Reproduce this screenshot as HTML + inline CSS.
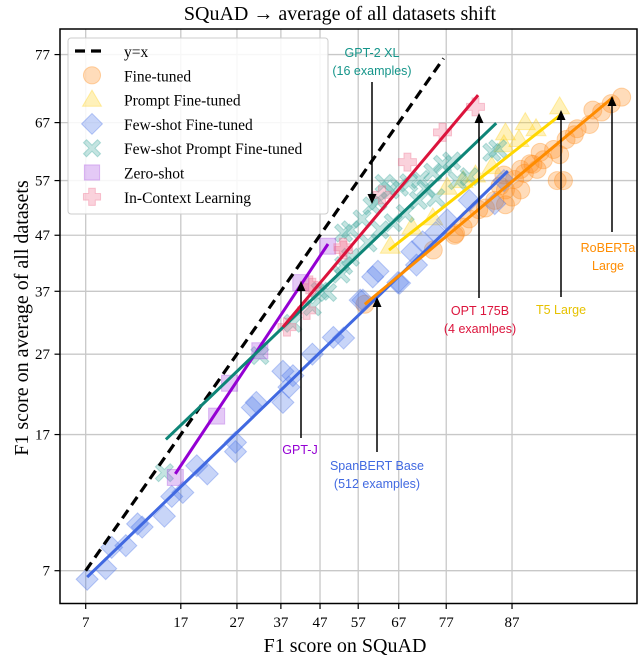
<!DOCTYPE html>
<html><head><meta charset="utf-8">
<style>
html,body{margin:0;padding:0;background:#fff;}
svg{display:block;font-family:"Liberation Serif",serif;}
.ann{font-family:"Liberation Sans",sans-serif;font-size:12.5px;}
</style></head>
<body>
<svg id="chart" width="640" height="660" viewBox="0 0 640 660" xmlns="http://www.w3.org/2000/svg">
<text x="340" y="20" text-anchor="middle" font-size="20">SQuAD → average of all datasets shift</text>
<g id="grid"></g>
<g id="marks"></g>
<g id="fits"></g>
<g id="ann"></g>
<rect x="60" y="29" width="577" height="574.5" fill="none" stroke="#000" stroke-width="1.5"/>
<g id="axes"></g>
<text x="345" y="652" text-anchor="middle" font-size="20">F1 score on SQuAD</text>
<text transform="translate(28,318) rotate(-90)" text-anchor="middle" font-size="20">F1 score on average of all datasets</text>
<g id="legend"></g>
</svg>
<script>
const xTicks=[7,17,27,37,47,57,67,77,87];
const yTicks=[7,17,27,37,47,57,67,77];
const diagLine=[7,76.5];
// Fine-tuned
const ftX=[58.7,74.5,78.7,81,82.5,84.8,86.2,87.3,88.4,89.3,90.3,91.2,92.2,93,93.8,94.5,95,95.5,86.2,88,89.7,91.7,78.5,92,91.5,86,88,89,85.5,87,90,92.8,94,83.5,80];
const ftY=[34.8,44.3,47.3,50,51.7,53.4,55.3,57.2,58.3,59.9,60.7,62.5,64.2,66,66.7,68.7,70,71,52.6,55.3,59,61.6,47,57,57,58,59,60,56,54,62,65,69,52,48.5];
// Prompt fine-tuned
const pfX=[88.5,89.6,86.2,91.7,87.8,86,84.4,77.2,74.4,70,65,80,82];
const pfY=[67,66,65.3,69.5,64.2,63.3,59.5,55.8,50.2,48.5,45,57,58];
// Few-shot fine-tuned
const fsX=[7.1,8.5,9,10.3,11.5,12,14.7,15.7,17.3,19.5,21.3,26.7,26.7,31.2,30.3,37.5,39,37.5,40,45,50.5,53.2,57.5,60.7,66.8,71,72.3,58.2,67.2,77.2,81,84.8,86,62,70,75];
const fsY=[6.6,7.1,8.2,8.3,9.6,9.4,10.1,11.5,11.8,14,13.3,16.2,15.3,20.6,20,24.6,22.5,20.6,24,27,29.5,29.4,35.5,39.5,38.5,41.6,45.8,35.5,38.4,49.8,53.4,52.8,57,40.5,44,47.5];
// Few-shot prompt fine-tuned
const fpX=[60.5,62,65,67.2,69.3,71.8,74.4,76.3,75,71.4,68.5,65.7,62.5,59.5,55,53.2,52.5,47,84.4,85.2,79,81,53.2,49,45,40,32,14.7,55,58,63.5,73,78];
const fpY=[52.4,53.3,55.3,55.8,56.6,57.2,58.5,59.9,53.9,53.4,51,49.3,48,45.6,43,47.4,40,37,62,62.6,57,57.7,41.5,36.8,34.4,31.7,26.8,13.4,48,50,56.5,55.5,60.5];
// Zero-shot
const zsX=[16.2,23,25.5,32,42,49];
const zsY=[13,19,23,27.5,38.5,45];
// In-context learning
const icX=[82,76.3,69,63,53.2,44.2,43.5,53,38.5,45];
const icY=[69.5,65.4,60.3,54.4,44.3,38.1,33.8,44.8,31.1,37.7];
// Fit lines: [x0,y0,x1,y1]
const fitGPTJ=[16.2,13.3,49.1,45.4];
const fitGPT2=[14.9,16.5,85.0,66.9];
const fitOPT=[37.5,31.1,82.4,71.3];
const fitT5=[64.7,44.3,91.8,68.3];
const fitSpan=[7.1,6.7,86.5,58.7];
const fitRob=[58.7,34.8,95.1,71.0];

const L0=Math.log(0.07/0.93);
function logit(v){const p=v/100;return Math.log(p/(1-p));}
function X(v){return 85.7+95*(logit(v)-L0);}
function Y(v){return 570.7-136*(logit(v)-L0);}
const NS="http://www.w3.org/2000/svg";
function mk(tag,attrs,parent){const e=document.createElementNS(NS,tag);for(const k in attrs)e.setAttribute(k,attrs[k]);parent.appendChild(e);return e;}

const grid=document.getElementById('grid'),axes=document.getElementById('axes');
xTicks.forEach(t=>{
  const g=mk('line',{x1:X(t),x2:X(t),y1:29,y2:603.5,stroke:'#c8c8c8','stroke-width':1.3},grid);
  
  
  const tk=mk('line',{x1:X(t),x2:X(t),y1:603.5,y2:609,stroke:'#000','stroke-width':1.2},axes);
  
  
  const tl=mk('text',{x:X(t),y:627,'text-anchor':'middle','font-size':15},axes);
  tl.textContent=t;
  
  
});
yTicks.forEach(t=>{
  const g=mk('line',{x1:60,x2:637,y1:Y(t),y2:Y(t),stroke:'#c8c8c8','stroke-width':1.3},grid);
  
  
  const tk=mk('line',{x1:54.5,x2:60,y1:Y(t),y2:Y(t),stroke:'#000','stroke-width':1.2},axes);
  
  
  const tl=mk('text',{x:50,y:Y(t)+5,'text-anchor':'end','font-size':15},axes);
  tl.textContent=t;
  
  
});

function shape(type,cx,cy,color,parent,s){
  s=s||1;let e;
  const a={fill:color,'fill-opacity':0.3,stroke:color,'stroke-opacity':0.35,'stroke-width':1};
  if(type==='circle'){e=mk('circle',Object.assign({cx:cx,cy:cy,r:9*s},a),parent);}
  else if(type==='tri'){const r=10*s;e=mk('polygon',Object.assign({points:`${cx},${cy-r} ${cx-r},${cy+r*0.7} ${cx+r},${cy+r*0.7}`},a),parent);}
  else if(type==='diamond'){const r=11*s;e=mk('polygon',Object.assign({points:`${cx},${cy-r} ${cx+r},${cy} ${cx},${cy+r} ${cx-r},${cy}`},a),parent);}
  else if(type==='square'){const r=8*s;e=mk('rect',Object.assign({x:cx-r,y:cy-r,width:2*r,height:2*r},a),parent);}
  else if(type==='xcross'){const r=9*s,w=3.2*s;e=mk('path',Object.assign({d:`M${cx-r},${cy-r+w}L${cx-r+w},${cy-r}L${cx},${cy-w}L${cx+r-w},${cy-r}L${cx+r},${cy-r+w}L${cx+w},${cy}L${cx+r},${cy+r-w}L${cx+r-w},${cy+r}L${cx},${cy+w}L${cx-r+w},${cy+r}L${cx-r},${cy+r-w}L${cx-w},${cy}Z`},a),parent);}
  else if(type==='plus'){const r=9*s,w=3.5*s;e=mk('path',Object.assign({d:`M${cx-w},${cy-r}H${cx+w}V${cy-w}H${cx+r}V${cy+w}H${cx+w}V${cy+r}H${cx-w}V${cy+w}H${cx-r}V${cy-w}H${cx-w}Z`},a),parent);}
  return e;
}
const marks=document.getElementById('marks');
const series=[
  [ftX,ftY,'circle','#ff8c1a','fine-tuned-point'],
  [pfX,pfY,'tri','#ffd11a','prompt-fine-tuned-point'],
  [fsX,fsY,'diamond','#4a74e8','few-shot-fine-tuned-point'],
  [fpX,fpY,'xcross','#3aa59c','few-shot-prompt-point'],
  [zsX,zsY,'square','#a64de0','zero-shot-point'],
  [icX,icY,'plus','#ef6b8a','in-context-point']
];
series.forEach(s=>{
  s[0].forEach((xv,i)=>{
    const e=shape(s[2],X(xv),Y(s[1][i]),s[3],marks);
    
    
  });
});

const fits=document.getElementById('fits');
const dg=mk('line',{x1:X(diagLine[0]),y1:Y(diagLine[0]),x2:X(diagLine[1]),y2:Y(diagLine[1]),stroke:'#000','stroke-width':3.2,'stroke-dasharray':'10,6'},fits);


const fitList=[[fitGPTJ,'#9400d3','gpt-j-fit-line'],[fitGPT2,'#0e8577','gpt2-xl-fit-line'],[fitOPT,'#dc143c','opt-fit-line'],[fitT5,'#ffd700','t5-fit-line'],[fitSpan,'#4169e1','spanbert-fit-line'],[fitRob,'#ff8c00','roberta-fit-line']];
fitList.forEach(f=>{
  const d=f[0];
  const l=mk('line',{x1:X(d[0]),y1:Y(d[1]),x2:X(d[2]),y2:Y(d[3]),stroke:f[1],'stroke-width':3},fits);
  
  
});

const ann=document.getElementById('ann');
function arrow(x,y1,y2,name){
  const l=mk('line',{x1:x,y1:y1,x2:x,y2:y2>y1?y2-8:y2+8,stroke:'#000','stroke-width':1.5},ann);
  
  
  const dir=y2>y1?-1:1;
  const h=mk('polygon',{points:`${x},${y2} ${x-4.5},${y2+dir*10} ${x+4.5},${y2+dir*10}`,fill:'#000'},ann);
  
  
}
function label(lines,x,y,color,name){
  lines.forEach((t,i)=>{
    const e=mk('text',{x:x,y:y+i*18,'text-anchor':'middle',fill:color,class:'ann'},ann);
    e.textContent=t;
    
    
  });
}
label(['GPT-2 XL','(16 examples)'],372,57,'#15958a','gpt2-xl-label');arrow(372,82,204,'gpt2-xl-arrow');
label(['OPT 175B','(4 examlpes)'],480,315,'#dc143c','opt-label');arrow(479,298,113,'opt-arrow');
label(['T5 Large'],561,314,'#e6c200','t5-label');arrow(561,297,110,'t5-arrow');
label(['RoBERTa','Large'],608,252,'#ff8c00','roberta-label');arrow(612,232,96,'roberta-arrow');
label(['GPT-J'],300,454,'#9400d3','gpt-j-label');arrow(301,438,281,'gpt-j-arrow');
label(['SpanBERT Base','(512 examples)'],377,470,'#4169e1','spanbert-label');arrow(377,452,297,'spanbert-arrow');

const lg=document.getElementById('legend');
const box=mk('rect',{x:68,y:38,width:260,height:176,rx:3,fill:'#fff','fill-opacity':0.85,stroke:'#ccc','stroke-width':1},lg);


const dl=mk('line',{x1:75,x2:106,y1:51,y2:51,stroke:'#000','stroke-width':3.2,'stroke-dasharray':'10,6'},lg);


const legNames=['y=x','Fine-tuned','Prompt Fine-tuned','Few-shot Fine-tuned','Few-shot Prompt Fine-tuned','Zero-shot','In-Context Learning'];
legNames.forEach((n,i)=>{
  const y=52+i*24.3;
  if(i>0){const s=series[i-1];const m=shape(s[2],92,y-1,s[3],lg,0.95);
    
    }
  const t=mk('text',{x:124,y:y+5,'font-size':15.5},lg);
  t.textContent=n;
  
  
});
</script>
</body></html>
